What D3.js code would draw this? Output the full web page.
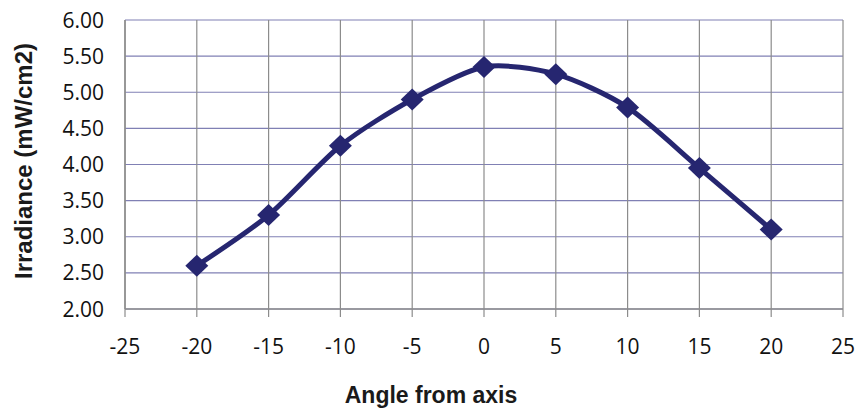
<!DOCTYPE html>
<html><head><meta charset="utf-8">
<script src="https://cdn.jsdelivr.net/npm/d3@7"></script>
<style>body{margin:0;background:#fff}svg{display:block}</style>
</head><body>
<script>
const angles = [-20, -15, -10, -5, 0, 5, 10, 15, 20];
const irradiance = [2.60, 3.30, 4.26, 4.90, 5.35, 5.25, 4.79, 3.95, 3.10];
const xTicks = [-25, -20, -15, -10, -5, 0, 5, 10, 15, 20, 25];
const yTicks = [2.00, 2.50, 3.00, 3.50, 4.00, 4.50, 5.00, 5.50, 6.00];

const W = 855, H = 411;
const L = 125, R = 843, T = 20, B = 309;
const svg = d3.select("body").append("svg").attr("width", W).attr("height", H);
const x = d3.scaleLinear().domain([-25, 25]).range([L, R]);
const y = d3.scaleLinear().domain([2, 6]).range([B, T]);

svg.append("g").selectAll("line").data(yTicks).join("line")
  .attr("x1", L).attr("x2", R).attr("y1", d => y(d)).attr("y2", d => y(d))
  .attr("stroke", "#8080b4").attr("stroke-width", 1.2);
svg.append("g").selectAll("line").data(xTicks).join("line")
  .attr("x1", d => x(d)).attr("x2", d => x(d)).attr("y1", T).attr("y2", B + 8)
  .attr("stroke", "#8c8c8c").attr("stroke-width", 1.2);
svg.append("line").attr("x1", L).attr("x2", L).attr("y1", T).attr("y2", B)
  .attr("stroke", "#8c8c8c").attr("stroke-width", 1.5);
svg.append("line").attr("x1", L).attr("x2", R).attr("y1", B).attr("y2", B)
  .attr("stroke", "#8c8c8c").attr("stroke-width", 1.5);

const font = "'Open Sans', 'Liberation Sans', sans-serif";
svg.append("g").selectAll("text").data(yTicks).join("text")
  .attr("x", 104).attr("y", d => y(d)).attr("dy", "0.36em")
  .attr("text-anchor", "end").attr("font-family", font).attr("font-size", 21)
  .attr("fill", "#111").text(d => d.toFixed(2));
svg.append("g").selectAll("text").data(xTicks).join("text")
  .attr("x", d => x(d)).attr("y", 354)
  .attr("text-anchor", "middle").attr("font-family", font).attr("font-size", 21)
  .attr("fill", "#111").text(d => d);

svg.append("text").attr("x", 431).attr("y", 403).attr("text-anchor", "middle")
  .attr("font-family", "'Liberation Sans', Arial, sans-serif").attr("font-weight", "bold")
  .attr("font-size", 23).attr("fill", "#1a1a1a").text("Angle from axis");
svg.append("text").attr("transform", `translate(32,161) rotate(-90)`)
  .attr("text-anchor", "middle")
  .attr("font-family", "'Liberation Sans', Arial, sans-serif").attr("font-weight", "bold")
  .attr("font-size", 24).attr("fill", "#1a1a1a").text("Irradiance (mW/cm2)");

const data = angles.map((a, i) => [a, irradiance[i]]);
const line = d3.line().x(d => x(d[0])).y(d => y(d[1])).curve(d3.curveCardinal.tension(0.2));
svg.append("path").datum(data).attr("d", line).attr("fill", "none")
  .attr("stroke", "#262670").attr("stroke-width", 5).attr("stroke-linejoin", "round");
const diamond = "M0,-11L11.5,0L0,11L-11.5,0Z";
svg.append("g").selectAll("path").data(data).join("path")
  .attr("transform", d => `translate(${x(d[0])},${y(d[1])})`)
  .attr("d", diamond)
  .attr("fill", "#262670");
</script>
</body></html>
